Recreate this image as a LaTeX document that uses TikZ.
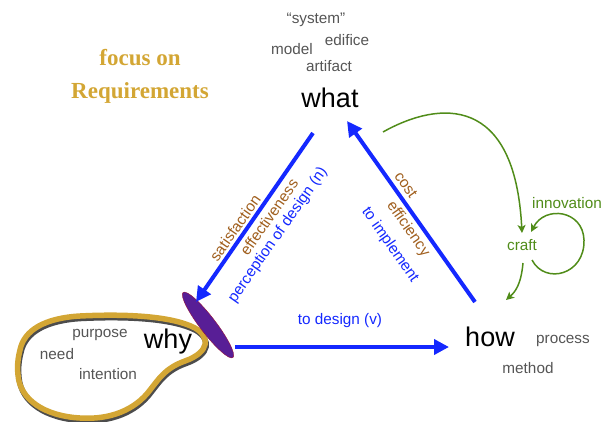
\documentclass[tikz,border=0pt]{standalone}
\usepackage{fontspec}
\setmainfont{Liberation Sans}
\newfontfamily\serifbold{Liberation Serif}
\usetikzlibrary{arrows.meta,shapes.geometric}
\definecolor{gold}{RGB}{211,166,52}
\definecolor{dblue}{RGB}{20,40,255}
\definecolor{lbrown}{RGB}{160,95,30}
\definecolor{lgreen}{RGB}{80,140,25}
\definecolor{wgray}{RGB}{85,85,85}
\definecolor{purp}{RGB}{88,30,150}
\definecolor{ellborder}{RGB}{150,20,60}
\tikzset{
  big/.style={font=\fontsize{27}{30}\selectfont, text=black, inner sep=0pt},
  small/.style={font=\fontsize{15.3}{17}\selectfont, text=wgray, inner sep=0pt},
  lab/.style={font=\fontsize{15.3}{17}\selectfont, inner sep=0pt},
  barrow/.style={draw=dblue, line width=4pt, -{Triangle[length=15pt,width=15pt]}},
  garrow/.style={draw=lgreen, line width=1.5pt, -{Stealth[length=8pt,width=8pt,inset=2pt]}},
  title/.style={font=\serifbold\bfseries\fontsize{23}{26}\selectfont, text=gold, inner sep=0pt},
}
\begin{document}
\begin{tikzpicture}[x=1pt,y=-1pt]
\useasboundingbox (0,0) rectangle (605,421);
% title
\node[title] (t1) at (140,58) {focus on};
\node[title] (t2) at (140,93) {Requirements};
% what words
\node[small] (sys) at (316,20) {“system”};
\node[small] (edi) at (347,40) {edifice};
\node[small] (mod) at (292,49) {model};
\node[small] (art) at (329,66) {artifact};
\node[big] (what) at (330,98) {what};
% why blob
\def\blob{(20,350) .. controls (24,330) and (45,318) .. (80,316)
  .. controls (120,314) and (170,315) .. (195,328)
  .. controls (210,337) and (210,352) .. (185,361)
  .. controls (165,368) and (158,380) .. (150,390)
  .. controls (135,410) and (110,420) .. (80,418)
  .. controls (45,416) and (20,400) .. (18,375)
  .. controls (17,365) and (18,358) .. (20,350) -- cycle}
\draw[black!70, line width=5.5pt, shift={(1,2.5)}] \blob;
\draw[gold, line width=5.5pt] \blob;
\node[big] (why) at (168,342) {why};
\node[small] (pur) at (100,335) {purpose};
\node[small] (need) at (57,354) {need};
\node[small] (int) at (108,374) {intention};
% ellipse
\node[draw=ellborder, fill=purp, ellipse, minimum width=82pt, minimum height=16pt, rotate=-52.6, inner sep=0pt] (ell) at (208,325) {};
% how
\node[big] (how) at (490,337) {how};
\node[small] (proc) at (563,341) {process};
\node[small] (meth) at (528,368) {method};
% blue arrows
\coordinate (a1s) at (313,133);
\coordinate (a1e) at (196,302);
\coordinate (a2s) at (475,302);
\coordinate (a2e) at (347,121);
\coordinate (a3s) at (235,347);
\coordinate (a3e) at (449,347);
\draw[barrow] (a1s) -- (a1e);
\draw[barrow] (a2s) -- (a2e);
\draw[barrow] (a3s) -- (a3e);
% labels on arrows
\node[lab, text=lbrown, rotate=55] (sat) at (235,228) {satisfaction};
\node[lab, text=lbrown, rotate=55] (eff) at (269,217) {effectiveness};
\node[lab, text=dblue, rotate=55] (perc) at (278,235) {perception of design (n)};
\node[lab, text=lbrown, rotate=-55] (cost) at (406,185) {cost};
\node[lab, text=lbrown, rotate=-55] (effi) at (408,229) {efficiency};
\node[lab, text=dblue, rotate=-55] (impl) at (390,245) {to implement};
\node[lab, text=dblue] (tdv) at (340,321) {to design (v)};
% green
\node[lab, text=lgreen] (craft) at (522,245) {craft};
\node[lab, text=lgreen] (inno) at (567,203) {innovation};
\coordinate (g1s) at (383,132);
\coordinate (g1e) at (522,233);
\draw[garrow] (g1s) .. controls (440,100) and (515,95) .. (g1e);
\coordinate (g2s) at (532,260);
\coordinate (g2e) at (531,232);
\draw[garrow] (g2s) .. controls (545,285) and (585,275) .. (584,240) .. controls (583,210) and (545,205) .. (g2e);
\coordinate (g3s) at (523,263);
\coordinate (g3e) at (506,300);
\draw[garrow] (g3s) .. controls (521,285) and (515,292) .. (g3e);
\end{tikzpicture}
\end{document}
